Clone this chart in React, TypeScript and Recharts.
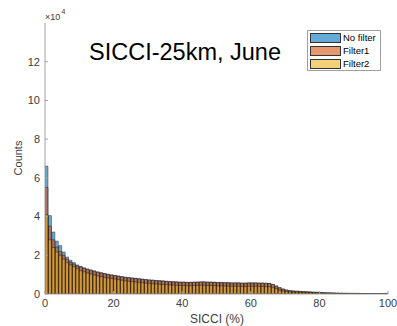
import React from "react";
import { ComposedChart, Bar, XAxis, YAxis, Legend } from "recharts";

// Histogram counts in units of 10^4, one value per 1% bin (0-1, 1-2, ... 99-100)
const noFilter = [
  6.6, 4.05, 3.2, 2.73, 2.5, 2.17, 1.91, 1.74, 1.62, 1.5,
  1.42, 1.35, 1.29, 1.24, 1.19, 1.14, 1.1, 1.06, 1.02, 0.99,
  0.96, 0.93, 0.9, 0.87, 0.85, 0.83, 0.81, 0.79, 0.77, 0.75,
  0.73, 0.72, 0.7, 0.69, 0.68, 0.66, 0.65, 0.64, 0.63, 0.62,
  0.62, 0.61, 0.61, 0.62, 0.62, 0.63, 0.63, 0.62, 0.62, 0.61,
  0.6, 0.6, 0.59, 0.59, 0.58, 0.58, 0.58, 0.57, 0.57, 0.58,
  0.58, 0.58, 0.57, 0.57, 0.56, 0.55, 0.5, 0.42, 0.33, 0.26,
  0.21, 0.18, 0.16, 0.15, 0.14, 0.13, 0.12, 0.11, 0.1, 0.09,
  0.08, 0.07, 0.065, 0.06, 0.055, 0.05, 0.045, 0.04, 0.038, 0.035,
  0.033, 0.03, 0.028, 0.026, 0.024, 0.022, 0.02, 0.018, 0.016, 0.03,
];
const filter1 = [
  5.5, 3.5, 2.8, 2.43, 2.2, 2.0, 1.8, 1.65, 1.55, 1.45,
  1.4, 1.34, 1.28, 1.23, 1.18, 1.13, 1.09, 1.05, 1.01, 0.98,
  0.95, 0.92, 0.89, 0.86, 0.84, 0.82, 0.8, 0.78, 0.76, 0.74,
  0.72, 0.71, 0.69, 0.68, 0.67, 0.65, 0.64, 0.63, 0.62, 0.61,
  0.61, 0.6, 0.6, 0.61, 0.61, 0.62, 0.62, 0.61, 0.61, 0.6,
  0.59, 0.59, 0.58, 0.58, 0.57, 0.57, 0.57, 0.56, 0.56, 0.57,
  0.57, 0.57, 0.56, 0.56, 0.55, 0.54, 0.49, 0.41, 0.32, 0.25,
  0.2, 0.17, 0.15, 0.14, 0.13, 0.12, 0.11, 0.1, 0.09, 0.08,
  0.07, 0.065, 0.06, 0.055, 0.05, 0.045, 0.04, 0.036, 0.034, 0.032,
  0.03, 0.028, 0.026, 0.024, 0.022, 0.02, 0.018, 0.016, 0.014, 0.028,
];
const filter2 = [
  4.1, 2.8, 2.4, 2.17, 2.0, 1.8, 1.62, 1.5, 1.4, 1.3,
  1.2, 1.14, 1.08, 1.03, 0.98, 0.94, 0.9, 0.86, 0.83, 0.8,
  0.77, 0.74, 0.71, 0.68, 0.66, 0.64, 0.62, 0.6, 0.58, 0.56,
  0.55, 0.53, 0.52, 0.5, 0.49, 0.48, 0.47, 0.46, 0.45, 0.44,
  0.44, 0.43, 0.43, 0.44, 0.44, 0.45, 0.45, 0.44, 0.44, 0.43,
  0.42, 0.42, 0.41, 0.41, 0.4, 0.4, 0.4, 0.39, 0.39, 0.4,
  0.4, 0.4, 0.39, 0.39, 0.38, 0.37, 0.33, 0.27, 0.2, 0.15,
  0.12, 0.1, 0.09, 0.08, 0.075, 0.07, 0.065, 0.06, 0.055, 0.05,
  0.045, 0.04, 0.035, 0.03, 0.028, 0.025, 0.022, 0.02, 0.018, 0.016,
  0.015, 0.014, 0.013, 0.012, 0.011, 0.01, 0.009, 0.008, 0.007, 0.015,
];
const binCenters = noFilter.map((_, i) => i + 0.5);
const xTicks = [0, 20, 40, 60, 80, 100];
const yTicks = [0, 2, 4, 6, 8, 10, 12];
const seriesNames = ["No filter", "Filter1", "Filter2"];
const legendColors = ["#66aad7", "#e8986f", "#f4d079"];
const barColors = ["#0072bd", "#d95319", "#edb120"];

const data = binCenters.map((x, i) => ({
  x,
  noFilter: noFilter[i],
  filter1: filter1[i],
  filter2: filter2[i],
}));

const FONT = "'Liberation Sans', Arial, sans-serif";
const AXIS = "#a0a0a0";
const TXT = "#404040";

const LegendBox = () => (
  <div
    style={{
      position: "absolute",
      left: 307,
      top: 30,
      width: 74,
      height: 41,
      border: "1px solid #a0a0a0",
      background: "#fff",
      fontFamily: FONT,
      fontSize: 9.5,
      color: "#000",
      boxSizing: "border-box",
    }}
  >
    {seriesNames.map((n, i) => (
      <div key={n} style={{ display: "flex", alignItems: "center", height: 12.7, marginTop: i === 0 ? 1 : 0 }}>
        <div
          style={{
            width: 31,
            height: 10,
            marginLeft: 2,
            background: legendColors[i],
            border: "1px solid #333",
            boxSizing: "border-box",
          }}
        />
        <span style={{ marginLeft: 2, lineHeight: "10px" }}>{n}</span>
      </div>
    ))}
  </div>
);

const barStroke = { stroke: "#000", strokeOpacity: 0.65, strokeWidth: 0.6 };

export default function App() {
  return (
    <div style={{ position: "absolute", left: 0, top: 0, width: 397, height: 326, background: "#fff" }}>
      <ComposedChart
        width={397}
        height={326}
        data={data}
        margin={{ top: 23, right: 9, left: 0, bottom: 0 }}
        barCategoryGap={0}
        barGap={0}
        style={{ fontFamily: FONT }}
      >
        <XAxis
          xAxisId="b"
          dataKey="x"
          type="number"
          domain={[0, 100]}
          ticks={xTicks}
          height={32}
          stroke={AXIS}
          tickSize={-3}
          tickMargin={8}
          tick={{ fill: TXT, fontSize: 11 }}
          allowDataOverflow
        />
        <XAxis
          xAxisId="t"
          dataKey="x"
          type="number"
          orientation="top"
          domain={[0, 100]}
          ticks={xTicks}
          height={0}
          stroke={AXIS}
          tickSize={-3}
          tickFormatter={() => ""}
          allowDataOverflow
        />
        <XAxis xAxisId="h" dataKey="x" type="number" domain={[0, 100]} hide allowDataOverflow />
        <YAxis
          yAxisId="l"
          type="number"
          domain={[0, 14]}
          ticks={yTicks}
          width={45}
          stroke={AXIS}
          tickSize={-3}
          tickMargin={8}
          tick={{ fill: TXT, fontSize: 11 }}
          allowDataOverflow
        />
        <YAxis
          yAxisId="r"
          type="number"
          orientation="right"
          domain={[0, 14]}
          ticks={yTicks}
          width={0}
          stroke={AXIS}
          tickSize={-3}
          tickFormatter={() => ""}
          allowDataOverflow
        />
        <Legend content={() => null} />
        <Bar
          xAxisId="b"
          yAxisId="l"
          dataKey="noFilter"
          name={seriesNames[0]}
          fill={barColors[0]}
          fillOpacity={0.6}
          {...barStroke}
          isAnimationActive={false}
        />
        <Bar
          xAxisId="t"
          yAxisId="l"
          dataKey="filter1"
          name={seriesNames[1]}
          fill={barColors[1]}
          fillOpacity={0.6}
          {...barStroke}
          isAnimationActive={false}
        />
        <Bar
          xAxisId="h"
          yAxisId="r"
          dataKey="filter2"
          name={seriesNames[2]}
          fill={barColors[2]}
          fillOpacity={0.6}
          {...barStroke}
          isAnimationActive={false}
        />
      </ComposedChart>
      <svg
        width={397}
        height={326}
        style={{ position: "absolute", left: 0, top: 0, pointerEvents: "none" }}
      >
        <text x={45} y={20} fontFamily={FONT} fontSize={9} fill={TXT}>
          ×10
        </text>
        <text x={61.5} y={14} fontFamily={FONT} fontSize={7} fill={TXT}>
          4
        </text>
        <text x={89} y={60} fontFamily={FONT} fontSize={23.5} fill="#000">
          SICCI-25km, June
        </text>
        <text
          x={0}
          y={0}
          transform="translate(22,158) rotate(-90)"
          textAnchor="middle"
          fontFamily={FONT}
          fontSize={11}
          fill={TXT}
        >
          Counts
        </text>
        <text x={217} y={323} textAnchor="middle" fontFamily={FONT} fontSize={12} fill={TXT}>
          SICCI (%)
        </text>
      </svg>
      <LegendBox />
    </div>
  );
}
